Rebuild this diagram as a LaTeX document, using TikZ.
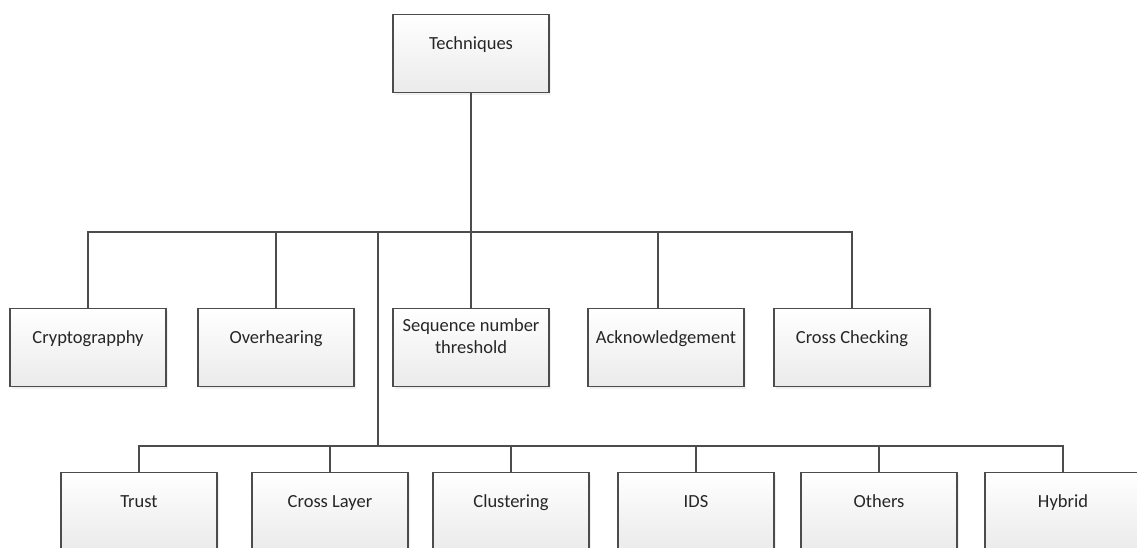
\documentclass[tikz,border=0pt]{standalone}
\usepackage{fontspec}
\setmainfont{Carlito}
\usepackage{tikz}
\usetikzlibrary{calc,shadows,positioning}

\tikzset{
  box/.style={draw=black!70,line width=1.4pt,rectangle,minimum width=156pt,minimum height=78pt,
    top color=white,bottom color=black!8,drop shadow={opacity=0.12,shadow xshift=2pt,shadow yshift=-2pt}},
  boxlines/.style={font=\fontsize{18.5}{22}\selectfont,text=black!85,align=center,yshift=11pt},
  boxtext/.style={boxlines,yshift=-4pt,text height=9pt,text depth=4pt},
  link/.style={draw=black!70,line width=1.6pt}
}

\begin{document}
\begin{tikzpicture}[x=1pt,y=-1pt]
\useasboundingbox (0,0) rectangle (1137,547);
\clip (0,0) rectangle (1137,547);
% root
\node[box,label={[boxtext]center:Techniques}] (tech) at (471,53.5) {};
% first row
\node[box,label={[boxtext]center:Cryptograpphy}] (crypt) at (88,347.5) {};
\node[box,label={[boxtext]center:Overhearing}] (over) at (276,347.5) {};
\node[box,label={[boxlines]center:Sequence number\\threshold}] (seq) at (471,347.5) {};
\node[box,label={[boxtext]center:Acknowledgement}] (ack) at (666,347.5) {};
\node[box,label={[boxtext]center:Cross Checking}] (cross) at (852,347.5) {};
% second row
\node[box,label={[boxtext]center:Trust}] (trust) at (139,511.5) {};
\node[box,label={[boxtext]center:Cross Layer}] (layer) at (330,511.5) {};
\node[box,label={[boxtext]center:Clustering}] (clust) at (511,511.5) {};
\node[box,label={[boxtext]center:IDS}] (ids) at (696,511.5) {};
\node[box,label={[boxtext]center:Others}] (others) at (879,511.5) {};
\node[box,label={[boxtext]center:Hybrid}] (hybrid) at (1063,511.5) {};

\coordinate (split) at (378,232);
\coordinate (bus) at (378,446);
\draw[link] (tech.south) -- (tech.south |- split);
\foreach \n/\dx in {crypt/0,over/0,seq/0,ack/-8,cross/0}
  \draw[link] (tech.south |- split) -| ([xshift=\dx pt]\n.north);
\draw[link] (split) -- (bus);
\foreach \n in {trust,layer,clust,ids,others,hybrid}
  \draw[link] (bus) -| (\n.north);
\end{tikzpicture}
\end{document}
